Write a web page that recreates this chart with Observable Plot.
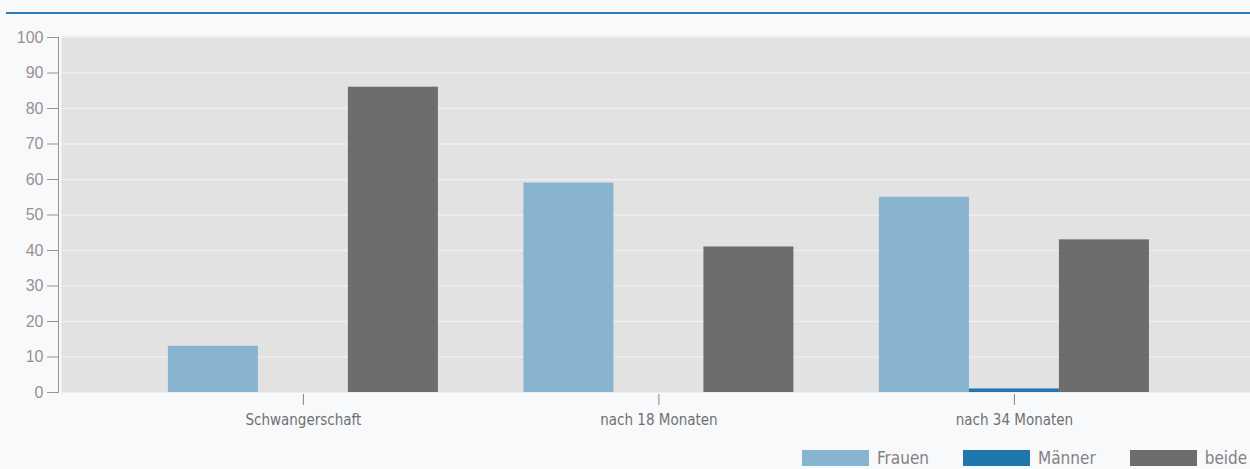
<!DOCTYPE html>
<html>
<head>
<meta charset="utf-8">
<script src="https://cdn.jsdelivr.net/npm/d3@7"></script>
<script src="https://cdn.jsdelivr.net/npm/@observablehq/plot@0.6"></script>
<style>
  html, body { margin: 0; padding: 0; background: #f8f9fb; width: 1250px; height: 469px; overflow: hidden; }
  .topline { height: 12px; margin-left: 6px; border-bottom: 2px solid #2f7db3; }
  #chart { position: relative; width: 1250px; height: 428px; }
  #chart svg { display: block; position: absolute; left: 0; top: 0; }
  .legend { display: flex; align-items: center; padding-left: 802px; padding-top: 6px; line-height: 20px;
            font-family: "DejaVu Sans Condensed", "Liberation Sans Narrow", sans-serif; font-size: 17px; color: #858080; }
  .legend .item { display: flex; align-items: center; margin-right: 34px; }
  .legend .sw { width: 67px; height: 16px; margin-right: 8px; }
</style>
</head>
<body>
<div class="topline"></div>
<div id="chart"></div>
<div class="legend" id="legend"></div>
<script>
const categories = ["Schwangerschaft", "nach 18 Monaten", "nach 34 Monaten"];
const series = ["Frauen", "Männer", "beide"];
const frauen = [13, 59, 55];
const maenner = [0, 0, 1];
const beide = [86, 41, 43];
const yTicks = [0, 10, 20, 30, 40, 50, 60, 70, 80, 90, 100];
const colors = ["#89b4d0", "#1f77ae", "#6d6d6f"];

const seriesValues = [frauen, maenner, beide];
const data = [];
categories.forEach((c, i) => {
  series.forEach((s, j) => data.push({cat: c, series: s, value: seriesValues[j][i]}));
});

const narrow = "'DejaVu Sans Condensed', 'Liberation Sans Narrow', sans-serif";
const common = {
  width: 1250,
  height: 428,
  marginTop: 23,
  marginBottom: 50,
  marginLeft: 61,
  marginRight: 0,
  y: {domain: [0, 100], axis: null}
};

// background layer: panel, grid, y axis
const back = Plot.plot({
  ...common,
  style: {background: "transparent", fontFamily: "'Liberation Sans', sans-serif"},
  marks: [
    Plot.frame({fill: "#e2e2e2", stroke: null, insetTop: -1}),
    Plot.ruleY(yTicks.slice(1), {stroke: "#eeeeee", strokeWidth: 1.5}),
    Plot.axisY(yTicks, {anchor: "left", tickSize: 11, tickPadding: 4, dx: -3,
      stroke: "#9c9393", fill: "#9a9090", fontSize: 16, label: null}),
    Plot.frame({anchor: "left", stroke: "#9c9393", dx: -3})
  ]
});

// bar layer: grouped bars and category axis
const bars = Plot.plot({
  ...common,
  style: {background: "transparent", fontFamily: "'Liberation Sans', sans-serif"},
  fx: {domain: categories, paddingInner: 0.2405, paddingOuter: 0.2925, align: 0.514, round: false, axis: null, label: null},
  x: {domain: series, padding: 0, axis: null, round: false},
  color: {domain: series, range: colors},
  marks: [
    Plot.barY(data, {fx: "cat", x: "series", y: "value", fill: "series"}),
    Plot.axisFx({anchor: "bottom", tickSize: 11, tickPadding: 9, dy: 2, stroke: "#8a8585",
      fill: "#707070", fontSize: 15, fontFamily: narrow, label: null})
  ]
});

const holder = document.getElementById("chart");
holder.appendChild(back);
holder.appendChild(bars);

const legend = document.getElementById("legend");
series.forEach((s, j) => {
  const item = document.createElement("div");
  item.className = "item";
  const sw = document.createElement("div");
  sw.className = "sw";
  sw.style.background = colors[j];
  const label = document.createElement("span");
  label.textContent = s;
  item.appendChild(sw);
  item.appendChild(label);
  legend.appendChild(item);
});
</script>
</body>
</html>
